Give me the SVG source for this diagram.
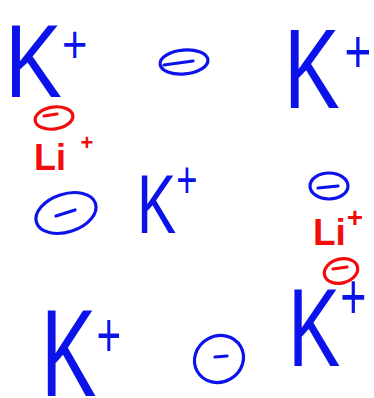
<svg xmlns="http://www.w3.org/2000/svg" width="374" height="398" viewBox="0 0 374 398">
<style>
.k{font-family:"Liberation Sans",Arial,sans-serif;fill:#0c12ea}
.li{font-family:"Liberation Sans",Arial,sans-serif;fill:#f20c0c;font-weight:bold}
.eb{fill:none;stroke:#0c12ea;stroke-width:3.2;stroke-linecap:round}
.er{fill:none;stroke:#f20c0c;stroke-width:3.2;stroke-linecap:round}
</style>
<rect width="374" height="398" fill="#ffffff"/>
<g id="k1">
<text class="k" font-size="104" transform="translate(5,97) scale(0.82,1)">K<tspan font-size="53" dx="0" dy="-34.5">+</tspan></text>
</g>
<g id="anion1">
<ellipse class="eb" cx="184" cy="62" rx="24" ry="12" transform="rotate(-5 184 62)"/>
<line class="eb" x1="164" y1="65" x2="193" y2="61"/>
</g>
<g id="k2">
<text class="k" font-size="113" transform="translate(284,108) scale(0.74,1)">K<tspan font-size="62" dx="6.5" dy="-36.3">+</tspan></text>
</g>
<g id="anion2">
<ellipse class="er" cx="54" cy="118" rx="19" ry="11" transform="rotate(-8 54 118)"/>
<line class="er" x1="44" y1="116" x2="57" y2="114"/>
</g>
<g id="li1">
<text class="li" font-size="36" x="34" y="170">Li<tspan font-size="22" dx="14.6" dy="-20">+</tspan></text>
</g>
<g id="anion3">
<ellipse class="eb" cx="66" cy="213" rx="31" ry="19" transform="rotate(-18 66 213)"/>
<line class="eb" x1="56" y1="216" x2="75" y2="210"/>
</g>
<g id="k3">
<text class="k" font-size="84" transform="translate(137,233) scale(0.7,1)">K<tspan font-size="52" dx="0" dy="-34.8">+</tspan></text>
</g>
<g id="anion4">
<ellipse class="eb" cx="329" cy="186" rx="19" ry="13"/>
<line class="eb" x1="318" y1="188" x2="338" y2="186"/>
</g>
<g id="li2">
<text class="li" font-size="37" x="313" y="245">Li<tspan font-size="28" dx="0.9" dy="-18">+</tspan></text>
</g>
<g id="anion5">
<ellipse class="er" cx="341" cy="271" rx="17" ry="12" transform="rotate(-15 341 271)"/>
<line class="er" x1="333" y1="269" x2="347" y2="267"/>
</g>
<g id="k4">
<text class="k" font-size="124" transform="translate(41,396) scale(0.67,1)">K<tspan font-size="63" dx="0" dy="-39">+</tspan></text>
</g>
<g id="anion6">
<ellipse class="eb" cx="219" cy="359" rx="25" ry="23" transform="rotate(-30 219 359)"/>
<line class="eb" x1="215" y1="357" x2="227" y2="356"/>
</g>
<g id="k5">
<text class="k" font-size="112" transform="translate(288,366) scale(0.7,1)">K<tspan font-size="64" dx="0" dy="-47.5">+</tspan></text>
</g>
<g id="connectors"></g>
</svg>
